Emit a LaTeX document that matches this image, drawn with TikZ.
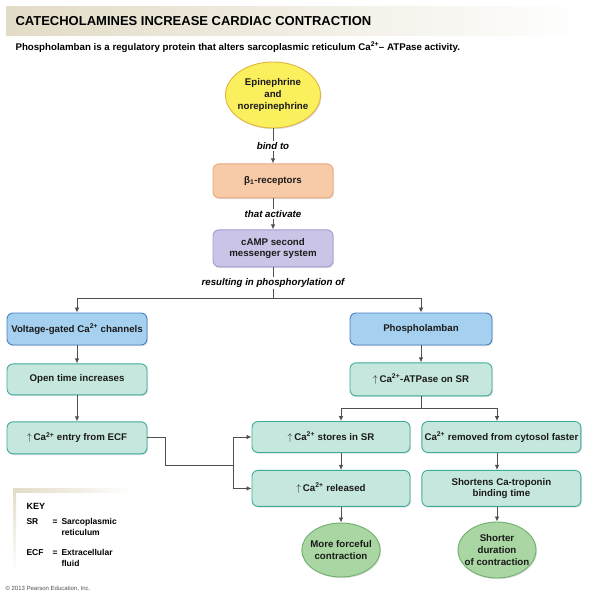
\documentclass[tikz,border=0pt]{standalone}
\usepackage{fontspec}
\setmainfont{Liberation Sans}
\usetikzlibrary{arrows.meta,positioning,calc,shapes.geometric,shadows}
\definecolor{Ink}{HTML}{1A1A1A}
\definecolor{Wire}{HTML}{505050}
\definecolor{Banner}{HTML}{E2DBC6}
\definecolor{Lemon}{HTML}{FAEF5C}
\definecolor{LemonEdge}{HTML}{E2B43E}
\definecolor{Peach}{HTML}{F8CBA8}
\definecolor{PeachEdge}{HTML}{E9A77A}
\definecolor{Lilac}{HTML}{CAC5E7}
\definecolor{LilacEdge}{HTML}{A29BD0}
\definecolor{SkyBlue}{HTML}{A6D0F0}
\definecolor{SkyEdge}{HTML}{4A80C2}
\definecolor{Mint}{HTML}{C6E7DD}
\definecolor{MintEdge}{HTML}{3DAB9B}
\definecolor{Sage}{HTML}{A9D6A3}
\definecolor{SageEdge}{HTML}{6EAF6E}

\begin{document}
\begin{tikzpicture}[x=1pt, y=1pt, font=\fontsize{9.7}{11.5}\selectfont\bfseries, >={Latex[length=5pt,width=4.5pt]}, node distance=17pt]
\tikzset{box/.style={draw, line width=.9pt, rounded corners=6pt, align=center, text=Ink, inner sep=2pt, drop shadow={shadow xshift=1pt, shadow yshift=-1.2pt, opacity=.25}}, oval/.style={box, ellipse, inner ysep=0pt, font=\fontsize{9.7}{12}\selectfont\bfseries}, sun/.style={oval, fill=Lemon, draw=LemonEdge}, peach/.style={box, fill=Peach, draw=PeachEdge}, lilac/.style={box, fill=Lilac, draw=LilacEdge}, sky/.style={box, fill=SkyBlue, draw=SkyEdge}, mint/.style={box, fill=Mint, draw=MintEdge}, sage/.style={oval, fill=Sage, draw=SageEdge}, wire/.style={draw=Wire, line width=.8pt}, says/.style={fill=white, inner sep=1.5pt, font=\fontsize{9.7}{11}\selectfont\bfseries\itshape}}
\useasboundingbox (0,0) rectangle (592,-600);
\shade[left color=Banner, right color=white] (6,-6) rectangle (585,-35);
\node[anchor=west, font=\fontsize{13}{15}\selectfont\bfseries] (title) at (12,-21) {CATECHOLAMINES INCREASE CARDIAC CONTRACTION};
\node[anchor=west, font=\fontsize{9.7}{11}\selectfont\bfseries] (lead) at (12,-47) {Phospholamban is a regulatory protein that alters sarcoplasmic reticulum Ca\textsuperscript{2+}– ATPase activity.};
\node[sun, minimum width=95pt, minimum height=66pt, inner xsep=-4pt] (epi) at (273,-95) {Epinephrine\\and\\norepinephrine};
\node[peach, minimum width=120pt, minimum height=34pt, below=35pt of epi] (beta) {β\textsubscript{1}-receptors};
\node[lilac, minimum width=120pt, minimum height=37pt, below=31pt of beta] (camp) {cAMP second\\messenger system};
\coordinate (split) at (273,-298);
\node[sky, minimum width=140pt, minimum height=32pt] (volt) at (77,-329) {Voltage-gated Ca\textsuperscript{2+} channels};
\node[mint, minimum width=140pt, minimum height=31pt, below=18pt of volt] (open) {Open time increases};
\node[mint, minimum width=140pt, minimum height=32pt, below=26pt of open] (entry) {$\uparrow$\,Ca\textsuperscript{2+} entry from ECF};
\node[sky, minimum width=142pt, minimum height=32pt] (phos) at (421,-329) {Phospholamban};
\node[mint, minimum width=142pt, minimum height=33pt, below=17pt of phos] (pump) {$\uparrow$\,Ca\textsuperscript{2+}-ATPase on SR};
\coordinate (fork) at (421,-408);
\node[mint, minimum width=158pt, minimum height=31pt] (stores) at (331,-437) {$\uparrow$\,Ca\textsuperscript{2+} stores in SR};
\node[mint, minimum width=159pt, minimum height=31pt, right=11pt of stores] (removed) {Ca\textsuperscript{2+} removed from cytosol faster};
\node[mint, minimum width=158pt, minimum height=36pt, below=17pt of stores] (released) {$\uparrow$\,Ca\textsuperscript{2+} released};
\node[mint, minimum width=159pt, minimum height=36pt, below=17pt of removed] (shortens) {Shortens Ca-troponin\\binding time};
\node[sage, minimum width=77pt, minimum height=54pt, inner xsep=-3pt] (forceful) at (341,-550) {More forceful\\contraction};
\node[sage, minimum width=78pt, minimum height=56pt, inner xsep=-5pt] (briefer) at (497,-550) {Shorter\\duration\\of contraction};
\coordinate (join) at (233,-465);
\draw[wire, ->] (epi) -- node[says] {bind to} (beta);
\draw[wire, ->] (beta) -- node[says] {that activate} (camp);
\draw[wire] (camp) -- node[says] {resulting in phosphorylation of} (split);
\draw[wire, ->] (split) -| (volt);
\draw[wire, ->] (split) -| (phos);
\draw[wire, ->] (volt) -- (open);
\draw[wire, ->] (open) -- (entry);
\draw[wire, ->] (phos) -- (pump);
\draw[wire] (pump) -- (fork);
\draw[wire, ->] (fork) -| (forceful |- stores.north);
\draw[wire, ->] (fork) -| (briefer |- removed.north);
\draw[wire, ->] (stores.south -| forceful) -- (released.north -| forceful);
\draw[wire, ->] (removed.south -| briefer) -- (shortens.north -| briefer);
\draw[wire, ->] (released.south -| forceful) -- (forceful);
\draw[wire, ->] (shortens.south -| briefer) -- (briefer);
\draw[wire] (entry.east) -- ++(18,0) |- (join);
\draw[wire, ->] (join) |- (stores);
\draw[wire, ->] (join) |- (released);
\shade[left color=Banner, right color=white] (13,-488) rectangle (135,-492);
\shade[top color=Banner, bottom color=white] (13,-488) rectangle (16,-572);
\node[anchor=west, font=\fontsize{9}{11}\selectfont\bfseries] (key) at (23,-506) {KEY};
\node[anchor=west, font=\fontsize{8.5}{11}\selectfont\bfseries] (sr) at (23,-522) {SR};
\node[anchor=west, font=\fontsize{8.5}{11}\selectfont\bfseries] (sreq) at (49,-522) {=};
\node[anchor=north west, align=left, font=\fontsize{8.5}{11}\selectfont\bfseries] (srtext) at (58,-515) {Sarcoplasmic\\reticulum};
\node[anchor=west, font=\fontsize{8.5}{11}\selectfont\bfseries] (ecf) at (23,-553) {ECF};
\node[anchor=west, font=\fontsize{8.5}{11}\selectfont\bfseries] (ecfeq) at (49,-553) {=};
\node[anchor=north west, align=left, font=\fontsize{8.5}{11}\selectfont\bfseries] (ecftext) at (58,-546) {Extracellular\\fluid};
\node[anchor=west, font=\fontsize{6}{7}\selectfont, text=Wire] (credit) at (2,-589) {\textcopyright\ 2013 Pearson Education, Inc.};
\end{tikzpicture}
\end{document}
